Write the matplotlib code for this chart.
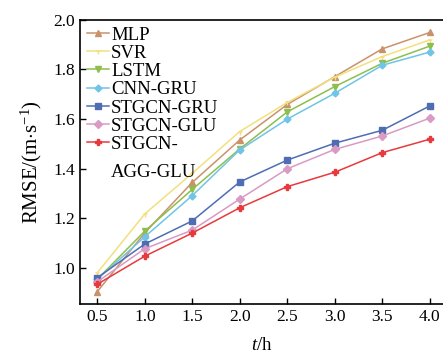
import matplotlib
matplotlib.use("Agg")
import matplotlib.pyplot as plt

plt.rcParams['font.family'] = ['Liberation Serif', 'DejaVu Serif']
plt.rcParams['mathtext.fontset'] = 'custom'
plt.rcParams['mathtext.rm'] = 'Liberation Serif'
plt.rcParams['mathtext.it'] = 'Liberation Serif:italic'

hours = [0.5, 1.0, 1.5, 2.0, 2.5, 3.0, 3.5, 4.0]

mlp = [0.905, 1.142, 1.345, 1.516, 1.659, 1.771, 1.883, 1.949]
svr = [0.981, 1.218, 1.382, 1.550, 1.667, 1.769, 1.852, 1.919]
lstm = [0.955, 1.149, 1.317, 1.480, 1.629, 1.731, 1.825, 1.894]
cnn_gru = [0.955, 1.126, 1.292, 1.476, 1.600, 1.704, 1.817, 1.870]
stgcn_gru = [0.961, 1.097, 1.190, 1.347, 1.435, 1.503, 1.555, 1.653]
stgcn_glu = [0.945, 1.078, 1.153, 1.278, 1.400, 1.478, 1.532, 1.604]
stgcn_agg = [0.935, 1.048, 1.141, 1.243, 1.328, 1.386, 1.465, 1.519]

series = [
    ("MLP", mlp, "#c9926b", "^", 4),
    ("SVR", svr, "#f3e07c", "1", 4),
    ("LSTM", lstm, "#8cbf4b", "v", 4),
    ("CNN-GRU", cnn_gru, "#70c4e6", "D", 3.5),
    ("STGCN-GRU", stgcn_gru, "#4f6db3", "s", 3.8),
    ("STGCN-GLU", stgcn_glu, "#d99ac4", "D", 4),
    ("STGCN-", stgcn_agg, "#e8393d", "P", 4),
]

fig = plt.figure(figsize=(4.43, 3.54), dpi=100)
ax = fig.add_axes([0.181, 0.141, 0.819, 0.803])

for name, vals, color, marker, ms in series:
    ax.plot(hours, vals, color=color, marker=marker, markersize=ms,
            linewidth=1.1, label=name)

ax.set_xlim(0.32, 4.14)
ax.set_ylim(0.855, 2.0)
ax.set_xticks(hours)
ax.set_xticklabels([f"{h:.1f}" for h in hours])
ax.set_yticks([1.0, 1.2, 1.4, 1.6, 1.8, 2.0])
ax.tick_params(direction='in', labelsize=12.5, length=4, width=1)
ax.spines['right'].set_visible(False)
for s in ['left', 'bottom', 'top']:
    ax.spines[s].set_linewidth(1.2)

ax.set_xlabel("$t$/h", fontsize=13.5, labelpad=9)
ax.set_ylabel("RMSE/(m$\\cdot$s$^{-1}$)", fontsize=15, labelpad=7)

leg = ax.legend(loc='upper left', frameon=False, fontsize=13.5, handlelength=1.2,
                handletextpad=0.1, labelspacing=0.06, borderaxespad=0.15,
                borderpad=0.2)

# wrapped second line of the last legend label
fig.canvas.draw()
last = leg.get_texts()[-1].get_window_extent()
x0, y0 = fig.transFigure.inverted().transform((last.x0, last.y0))
fig.text(x0, y0 - 0.078, "AGG-GLU", fontsize=13.5, ha='left', va='bottom')

fig.savefig("out.png", dpi=100)
